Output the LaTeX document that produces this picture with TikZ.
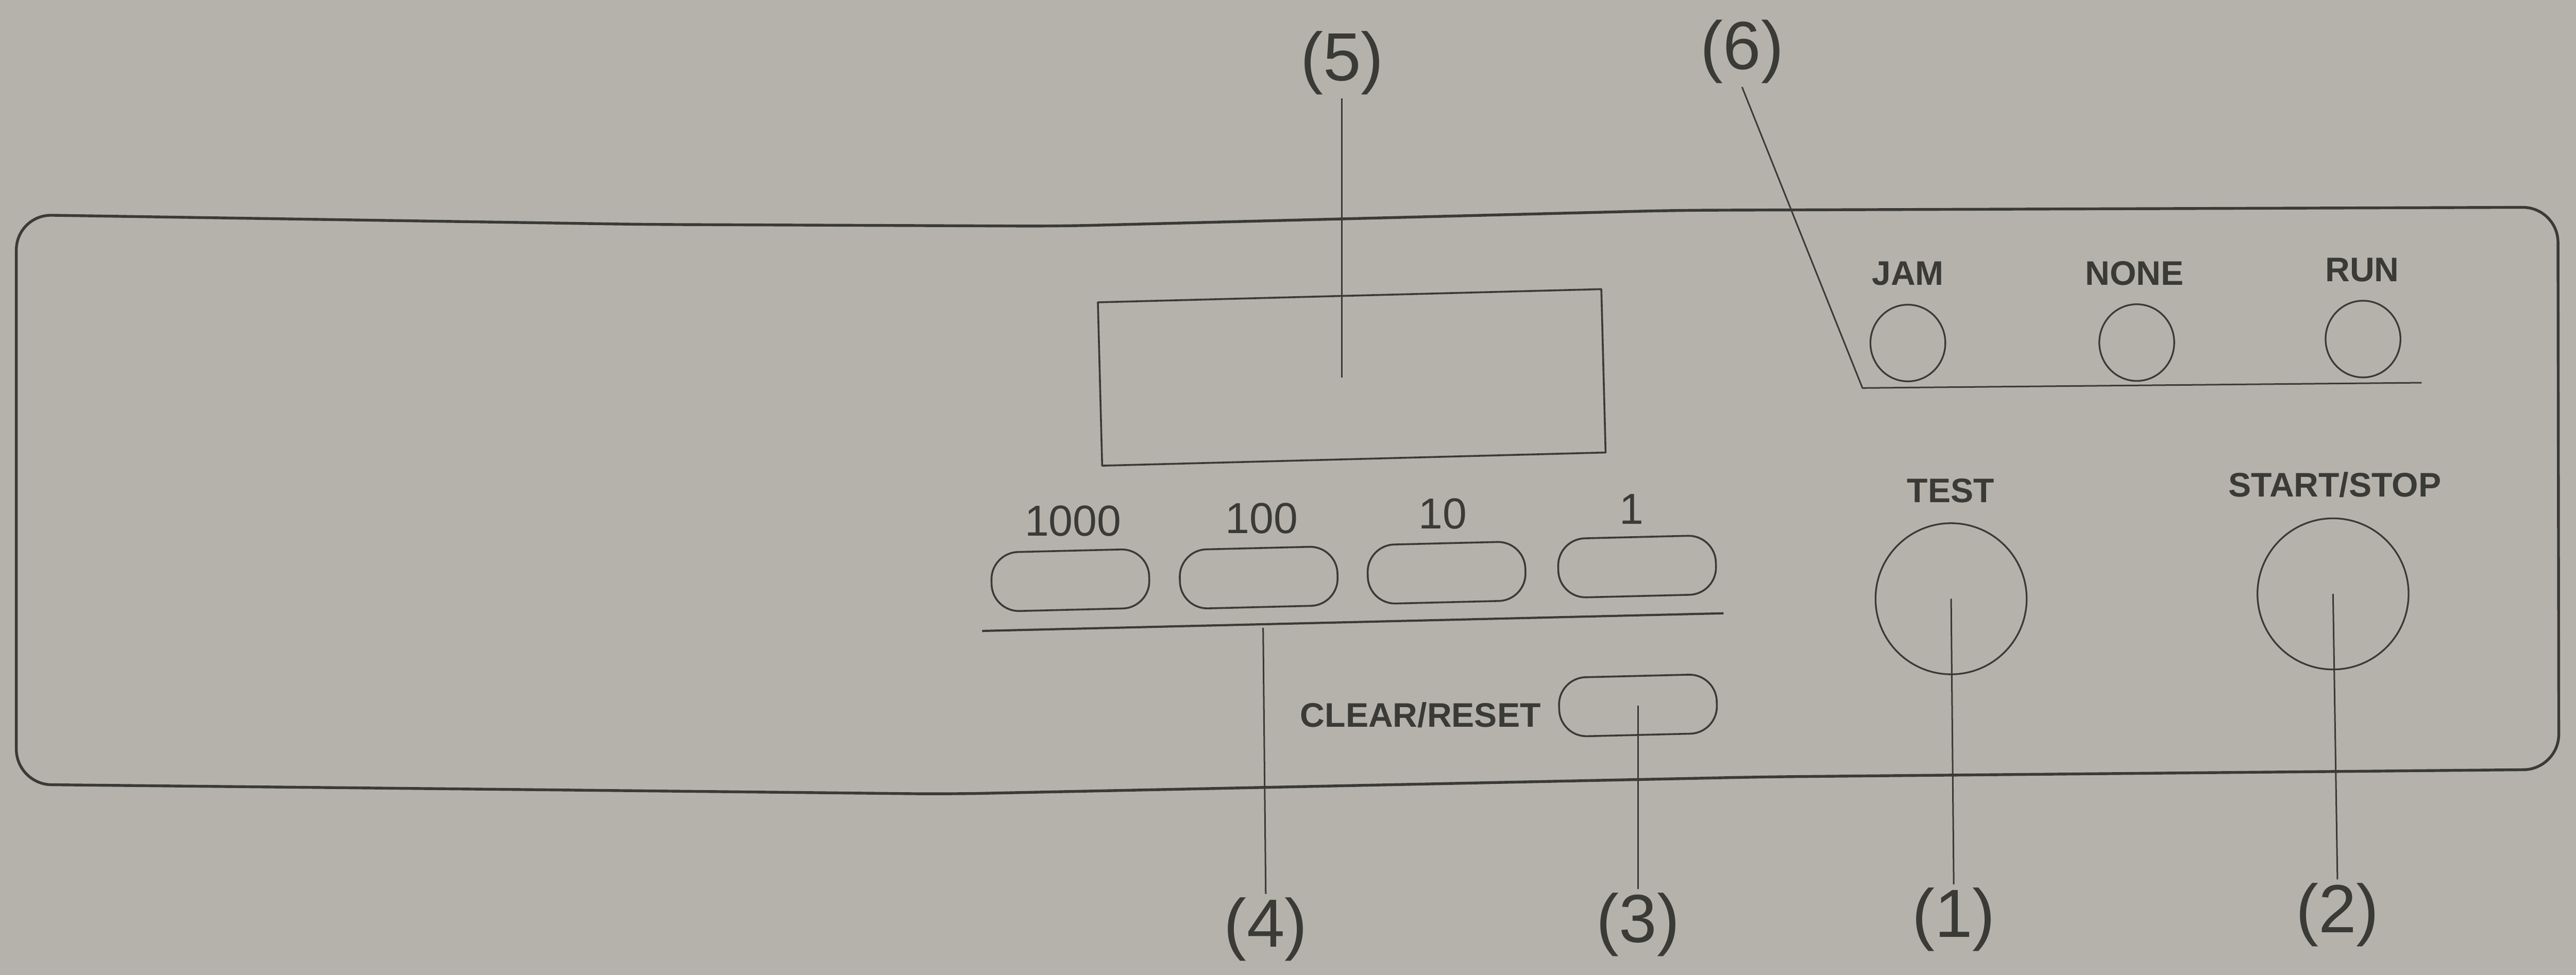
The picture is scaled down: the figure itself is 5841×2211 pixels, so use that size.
\documentclass[tikz,border=0pt]{standalone}
\usepackage{fontspec}
\usetikzlibrary{shapes.geometric}
\setmainfont{Liberation Sans}
\definecolor{paper}{RGB}{180,178,170}
\definecolor{ink}{RGB}{58,58,54}
\begin{document}
\begin{tikzpicture}[x=0.005cm,y=-0.005cm, line join=round,
  every node/.style={text=ink},
  callout/.style={font=\fontsize{22}{24}\selectfont, inner sep=1pt},
  tag/.style={font=\fontsize{11}{13}\selectfont\bfseries, inner sep=0pt},
  digit/.style={font=\fontsize{14}{16}\selectfont, inner sep=0pt},
  pill/.style={draw=ink, line width=0.6pt, rounded corners=0.31cm, minimum width=1.79cm, minimum height=0.67cm, inner sep=0pt, rotate=1.4},
  lamp/.style={ellipse, draw=ink, line width=0.55pt, minimum width=0.85cm, minimum height=0.87cm, inner sep=0pt},
  knob/.style={circle, draw=ink, line width=0.55pt, minimum size=1.715cm, inner sep=0pt},
  leader/.style={draw=ink, line width=0.5pt}]
% background and bounding box
\fill[paper] (0,0) rectangle (5841,2211);
\useasboundingbox (0,0) rectangle (5841,2211);
% panel outline
\draw[ink, line width=0.9pt, rounded corners=0.4cm]
  (37,1100) -- (37,487) -- (1460,509) -- (2400,513) -- (3800,477) -- (5800,470)
  -- (5802,1745) -- (4000,1762) -- (2150,1801) -- (1300,1792) -- (37,1779) -- cycle;
% display
\node[draw=ink, line width=0.6pt, minimum width=5.715cm, minimum height=1.855cm, inner sep=0pt, rotate=1.5] (disp) at (3065,856) {};
% digit buttons
\node[digit] (t1000) at (2433,1182) {1000};
\node[digit] (t100) at (2861,1176) {100};
\node[digit] (t10) at (3271,1165) {10};
\node[digit] (t1) at (3700,1155) {1};
\node[pill] (b1000) at (2427,1316) {};
\node[pill] (b100) at (2854,1310) {};
\node[pill] (b10) at (3280,1299) {};
\node[pill] (b1) at (3712,1285) {};
\coordinate (ul) at (2227,1431);
\coordinate (ur) at (3908,1391);
\coordinate (u4) at (2864,1424);
\draw[ink, line width=0.7pt] (ul) -- (ur);
% clear/reset
\node[tag] (tclr) at (3221,1622) {CLEAR/RESET};
\node[pill] (bclr) at (3714,1600) {};
% lamps
\node[tag] (tjam) at (4326,620) {JAM};
\node[tag] (tnone) at (4840,620) {NONE};
\node[tag] (trun) at (5356,612) {RUN};
\node[lamp] (ljam) at (4326,778) {};
\node[lamp] (lnone) at (4845,777) {};
\node[lamp] (lrun) at (5358,769) {};
% big buttons
\node[tag] (ttest) at (4423,1113) {TEST};
\node[tag] (tss) at (5294,1099) {START/STOP};
\node[knob] (test) at (4424,1358) {};
\node[knob] (ss) at (5290,1347) {};
% callouts
\node[callout] (l5) at (3043,143) {(5)};
\node[callout] (l6) at (3950,117) {(6)};
\node[callout] (l4) at (2870,2108) {(4)};
\node[callout] (l3) at (3714,2097) {(3)};
\node[callout] (l1) at (4430,2086) {(1)};
\node[callout] (l2) at (5300,2075) {(2)};
\coordinate (c6a) at (4223,880);
\coordinate (c6b) at (5491,868);
% leaders
\draw[leader] (l5.south) -- (l5.south |- disp.center);
\draw[leader] (l6.south) -- (c6a) -- (c6b);
\draw[leader] (l4.north) -- (u4);
\draw[leader] (l3.north) -- (bclr.center);
\draw[leader] (l1.north) -- (test.center);
\draw[leader] (l2.north) -- (ss.center);
\end{tikzpicture}
\end{document}
